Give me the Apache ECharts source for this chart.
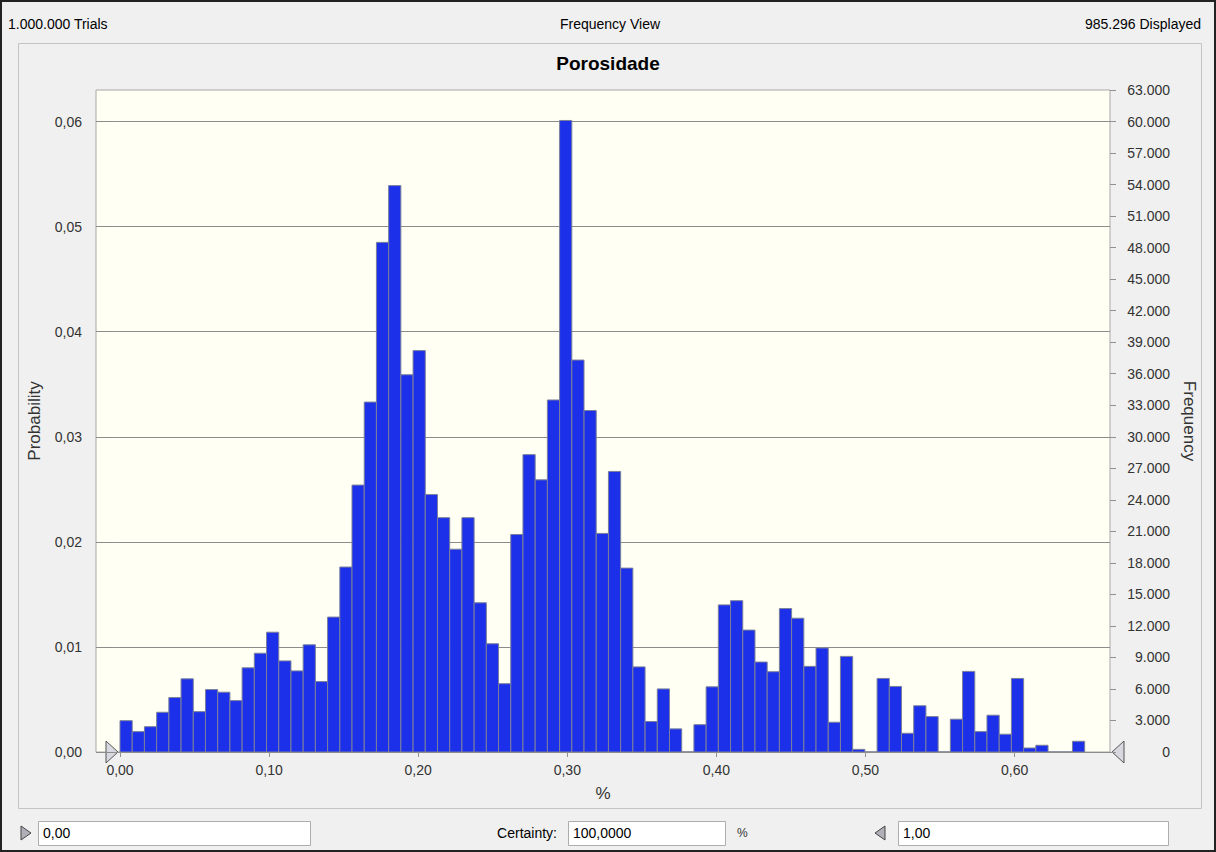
<!DOCTYPE html>
<html>
<head>
<meta charset="utf-8">
<title>Porosidade</title>
<script src="https://cdn.jsdelivr.net/npm/echarts@6/dist/echarts.min.js"></script>
<style>
  html, body { margin: 0; padding: 0; background: #f0f0f0; }
  #chart { width: 1216px; height: 852px; }
</style>
</head>
<body>
<div id="chart"></div>
<script>
// histogram bins (value axis units), 79 bins starting at 0
var binStart = 0;
var binWidth = 0.00819;
var freq = [2980, 1940, 2410, 3780, 5180, 6960, 3840, 5940, 5690, 4890, 8010, 9400, 11400, 8670, 7720, 10200, 6700, 12840,
    17600, 25400, 33300, 48500, 53900, 35900, 38200, 24500, 22300, 19300, 22300, 14200, 10300, 6500,
    20700, 28300, 25900, 33500, 60100, 37300, 32500, 20800, 26700, 17500, 8100, 2900, 6000,
    2200, 0, 2600, 6200, 14000, 14400, 11600, 8560, 7640, 13650, 12730, 8150, 9900, 2830, 9100, 250, 0, 7000, 6240, 1780,
    4400, 3370, 0, 3120, 7670, 1940, 3500, 1690, 7000, 380, 640, 0, 0, 1020];
var xTicks = [0, 0.1, 0.2, 0.3, 0.4, 0.5, 0.6];
var probTicks = [0, 0.01, 0.02, 0.03, 0.04, 0.05, 0.06];

var dom = document.getElementById("chart");
var myChart = echarts.init(dom, null, { renderer: 'svg' });

var bins = [];
for (var i = 0; i < freq.length; i++) {
    bins.push([binStart + i * binWidth, binStart + (i + 1) * binWidth, freq[i]]);
}

function comma(v) {
    return v.toFixed(2).replace('.', ',');
}
function thousands(v) {
    return String(v).replace(/\B(?=(\d{3})+(?!\d))/g, '.');
}

var font = '"Liberation Sans", Arial, sans-serif';

var option = {
    backgroundColor: '#f0f0f0',
    textStyle: { fontFamily: font },
    title: {
        text: 'Porosidade',
        left: 'center',
        top: 49,
        textStyle: { fontSize: 19, fontWeight: 'bold', color: '#000', fontFamily: font }
    },
    grid: {
        left: 96,
        right: 106,
        top: 90,
        bottom: 100,
        show: true,
        backgroundColor: '#fffff3',
        borderColor: '#a8a8a8',
        borderWidth: 1
    },
    xAxis: {
        type: 'value',
        min: -0.0161,
        max: 0.664,
        name: '%',
        nameLocation: 'middle',
        nameGap: 33,
        nameTextStyle: { fontSize: 17, color: '#333' },
        axisLine: { show: false },
        axisTick: { show: true, length: 5, customValues: xTicks, lineStyle: { color: '#909090' } },
        axisLabel: { customValues: xTicks, formatter: comma, fontSize: 14, color: '#333', margin: 11 },
        splitLine: { show: false }
    },
    yAxis: [{
        type: 'value',
        position: 'left',
        min: 0,
        max: 0.063,
        interval: 0.01,
        name: 'Probability',
        nameLocation: 'middle',
        nameRotate: 90,
        nameGap: 53,
        nameTextStyle: { fontSize: 17, color: '#333' },
        axisLine: { show: false },
        axisTick: { show: true, length: 7, customValues: probTicks, lineStyle: { color: '#909090' } },
        axisLabel: { customValues: probTicks, formatter: comma, fontSize: 14, color: '#333', margin: 14 },
        splitLine: { show: true, lineStyle: { color: '#8c8c8c', width: 1 } }
    }, {
        type: 'value',
        position: 'right',
        min: 0,
        max: 63000,
        interval: 3000,
        name: 'Frequency',
        nameLocation: 'middle',
        nameRotate: -90,
        nameGap: 70,
        nameTextStyle: { fontSize: 17, color: '#333' },
        axisLine: { show: false },
        axisTick: { show: true, length: 6, lineStyle: { color: '#909090' } },
        axisLabel: { formatter: thousands, fontSize: 14, color: '#333', align: 'right', margin: 60 },
        splitLine: { show: false }
    }],
    series: [{
        type: 'custom',
        xAxisIndex: 0,
        yAxisIndex: 1,
        clip: true,
        data: bins,
        renderItem: function (params, api) {
            var p0 = api.coord([api.value(0), api.value(2)]);
            var p1 = api.coord([api.value(1), 0]);
            return {
                type: 'rect',
                shape: { x: p0[0], y: p0[1], width: p1[0] - p0[0], height: p1[1] - p0[1] },
                style: { fill: '#1c30ea', stroke: '#7a7f9a', lineWidth: 1 }
            };
        }
    }],
    graphic: [
        // outer frame and inner panel
        { type: 'rect', shape: { x: 1, y: 1, width: 1214, height: 850 }, style: { fill: 'none', stroke: '#222', lineWidth: 2 }, silent: true },
        { type: 'rect', shape: { x: 18.5, y: 43.5, width: 1183, height: 765 }, style: { fill: 'none', stroke: '#c4c4c4', lineWidth: 1 }, silent: true, z: -1 },
        // top strip
        { type: 'text', x: 8, y: 24, style: { text: '1.000.000 Trials', font: '14px ' + font, fill: '#000', verticalAlign: 'middle' } },
        { type: 'text', x: 610, y: 24, style: { text: 'Frequency View', font: '14px ' + font, fill: '#000', align: 'center', verticalAlign: 'middle' } },
        { type: 'text', x: 1201, y: 24, style: { text: '985.296 Displayed', font: '14px ' + font, fill: '#000', align: 'right', verticalAlign: 'middle' } },
        // range sliders at the axis ends
        { type: 'polygon', shape: { points: [[106, 741], [106, 763], [118, 752]] }, style: { fill: '#d8d8e0', stroke: '#555', lineWidth: 1 } },
        { type: 'polygon', shape: { points: [[1124, 741], [1124, 763], [1112, 752]] }, style: { fill: '#d8d8e0', stroke: '#555', lineWidth: 1 } },
        // bottom controls
        { type: 'polygon', shape: { points: [[21, 826], [21, 840], [31, 833]] }, style: { fill: '#b0b0b8', stroke: '#444', lineWidth: 1 } },
        { type: 'rect', shape: { x: 38.5, y: 821.5, width: 272, height: 24 }, style: { fill: '#fff', stroke: '#adadad', lineWidth: 1 } },
        { type: 'text', x: 43, y: 833, style: { text: '0,00', font: '14px ' + font, fill: '#000', verticalAlign: 'middle' } },
        { type: 'text', x: 557, y: 833, style: { text: 'Certainty:', font: '14px ' + font, fill: '#000', align: 'right', verticalAlign: 'middle' } },
        { type: 'rect', shape: { x: 568.5, y: 821.5, width: 157, height: 24 }, style: { fill: '#fff', stroke: '#adadad', lineWidth: 1 } },
        { type: 'text', x: 573, y: 833, style: { text: '100,0000', font: '14px ' + font, fill: '#000', verticalAlign: 'middle' } },
        { type: 'text', x: 737, y: 833, style: { text: '%', font: '12px ' + font, fill: '#333', verticalAlign: 'middle' } },
        { type: 'polygon', shape: { points: [[885, 826], [885, 840], [875, 833]] }, style: { fill: '#b0b0b8', stroke: '#444', lineWidth: 1 } },
        { type: 'rect', shape: { x: 898.5, y: 821.5, width: 270, height: 24 }, style: { fill: '#fff', stroke: '#adadad', lineWidth: 1 } },
        { type: 'text', x: 903, y: 833, style: { text: '1,00', font: '14px ' + font, fill: '#000', verticalAlign: 'middle' } }
    ]
};

if (option && typeof option === "object") {
    myChart.setOption(option, true);
}

window.onresize = function () {
    myChart.resize();
};
</script>
</body>
</html>
